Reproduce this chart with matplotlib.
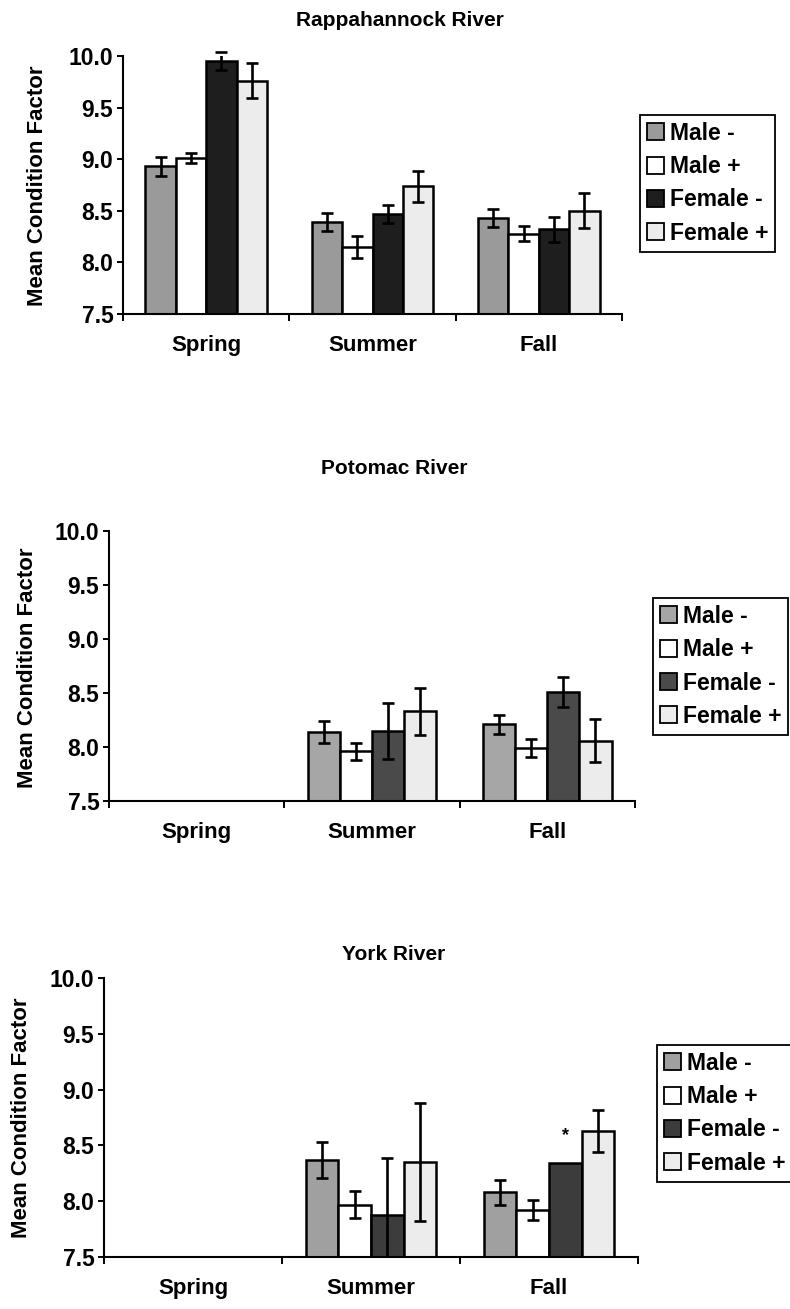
import numpy as np
import matplotlib.pyplot as plt
from matplotlib.patches import Patch

plt.rcParams['font.family'] = ['Liberation Sans', 'DejaVu Sans']
plt.rcParams['font.weight'] = 'bold'

nan = np.nan

seasons = ['Spring', 'Summer', 'Fall']
groups = ['Male -', 'Male +', 'Female -', 'Female +']

# rows = groups, columns = seasons
rap_mean = [[8.93, 8.39, 8.43], [9.01, 8.15, 8.28], [9.95, 8.47, 8.32], [9.76, 8.74, 8.50]]
rap_err = [[0.095, 0.085, 0.09], [0.05, 0.11, 0.075], [0.09, 0.085, 0.12], [0.17, 0.15, 0.17]]

pot_mean = [[nan, 8.14, 8.21], [nan, 7.96, 7.99], [nan, 8.15, 8.51], [nan, 8.33, 8.06]]
pot_err = [[nan, 0.10, 0.09], [nan, 0.08, 0.08], [nan, 0.26, 0.14], [nan, 0.22, 0.20]]

york_mean = [[nan, 8.37, 8.08], [nan, 7.97, 7.92], [nan, 7.88, 8.34], [nan, 8.35, 8.63]]
york_err = [[nan, 0.16, 0.11], [nan, 0.12, 0.09], [nan, 0.51, nan], [nan, 0.53, 0.19]]
york_star = ('Fall', 'Female -', 8.59)

W, H = 790, 1309
fig = plt.figure(figsize=(W / 100, H / 100), dpi=100)


def box(x0, y0, x1, y1):
    # pixel box (top-left origin) -> figure fraction rect
    return [x0 / W, 1 - y1 / H, (x1 - x0) / W, (y1 - y0) / H]


def panel(rect, title, tpos, ypos, means, errs, colors, lpos, star=None):
    ax = fig.add_axes(rect)
    x = np.arange(len(seasons)) + 0.5
    w = 0.183
    for i in range(4):
        m = np.array(means[i], dtype=float)
        e = np.array(errs[i], dtype=float)
        xs = x + (i - 1.5) * w
        ok = ~np.isnan(m)
        ax.bar(xs[ok], m[ok] - 7.5, w, bottom=7.5, color=colors[i],
               edgecolor='black', linewidth=1.8, zorder=2)
        eb = ax.errorbar(xs[ok], m[ok], yerr=e[ok], fmt='none', ecolor='black',
                         elinewidth=1.9, capsize=4.5, capthick=1.9, zorder=3)
        # upper caps may poke above the top of the axis; lower ones stay clipped
        for c in eb[1]:
            yd = np.asarray(c.get_ydata(), dtype=float)
            yd = yd[~np.isnan(yd)]
            if len(yd) and yd.min() >= 7.5:
                c.set_clip_on(False)
    if star is not None:
        si = seasons.index(star[0])
        gi = groups.index(star[1])
        ax.text(x[si] + (gi - 1.5) * w, star[2], '*', ha='center', va='center',
                fontsize=13)

    ax.set_xlim(0, 3)
    ax.set_ylim(7.5, 10)
    ax.set_xticks([0, 1, 2, 3])
    ax.set_xticklabels([])
    ax.set_xticks(x, minor=True)
    ax.set_xticklabels(seasons, minor=True)
    ax.tick_params(axis='x', which='major', length=5, width=1.4, direction='out')
    ax.tick_params(axis='x', which='minor', length=0, pad=15, labelsize=16)
    ax.set_yticks(np.arange(7.5, 10.01, 0.5))
    ax.set_yticklabels(['%.1f' % v for v in np.arange(7.5, 10.01, 0.5)])
    ax.tick_params(axis='y', length=4, width=1.4, labelsize=16.5, pad=3)
    for s in ['top', 'right']:
        ax.spines[s].set_visible(False)
    for s in ['left', 'bottom']:
        ax.spines[s].set_linewidth(1.5)

    fig.text(tpos[0] / W, 1 - tpos[1] / H, title, ha='center', va='center',
             fontsize=15, weight='bold')
    fig.text(ypos[0] / W, 1 - ypos[1] / H, 'Mean Condition Factor', rotation=90,
             ha='center', va='center', fontsize=16, weight='bold')

    handles = [Patch(facecolor=c, edgecolor='black', linewidth=1.3) for c in colors]
    leg = fig.legend(handles, groups, loc='upper left',
                     bbox_to_anchor=(lpos[0] / W, 1 - lpos[1] / H),
                     fancybox=False, edgecolor='black', framealpha=1,
                     prop={'size': 16.5, 'weight': 'bold'},
                     handlelength=0.75, handleheight=0.75, handletextpad=0.25,
                     labelspacing=0.45, borderpad=0.3, borderaxespad=0)
    leg.get_frame().set_linewidth(1.3)
    return ax


panel(box(123, 56, 622, 314), 'Rappahannock River', (400, 20), (38, 186),
      rap_mean, rap_err, ['#9a9a9a', 'white', '#1e1e1e', '#ececec'], (640, 115))
panel(box(109, 531, 635, 801), 'Potomac River', (394, 468), (28, 668),
      pot_mean, pot_err, ['#a6a6a6', 'white', '#4a4a4a', '#ececec'], (653, 598))
panel(box(104, 978, 638, 1257), 'York River', (394, 955), (22, 1118),
      york_mean, york_err, ['#a0a0a0', 'white', '#3c3c3c', '#ececec'], (657, 1045),
      star=york_star)

fig.savefig('out.png', dpi=100)
